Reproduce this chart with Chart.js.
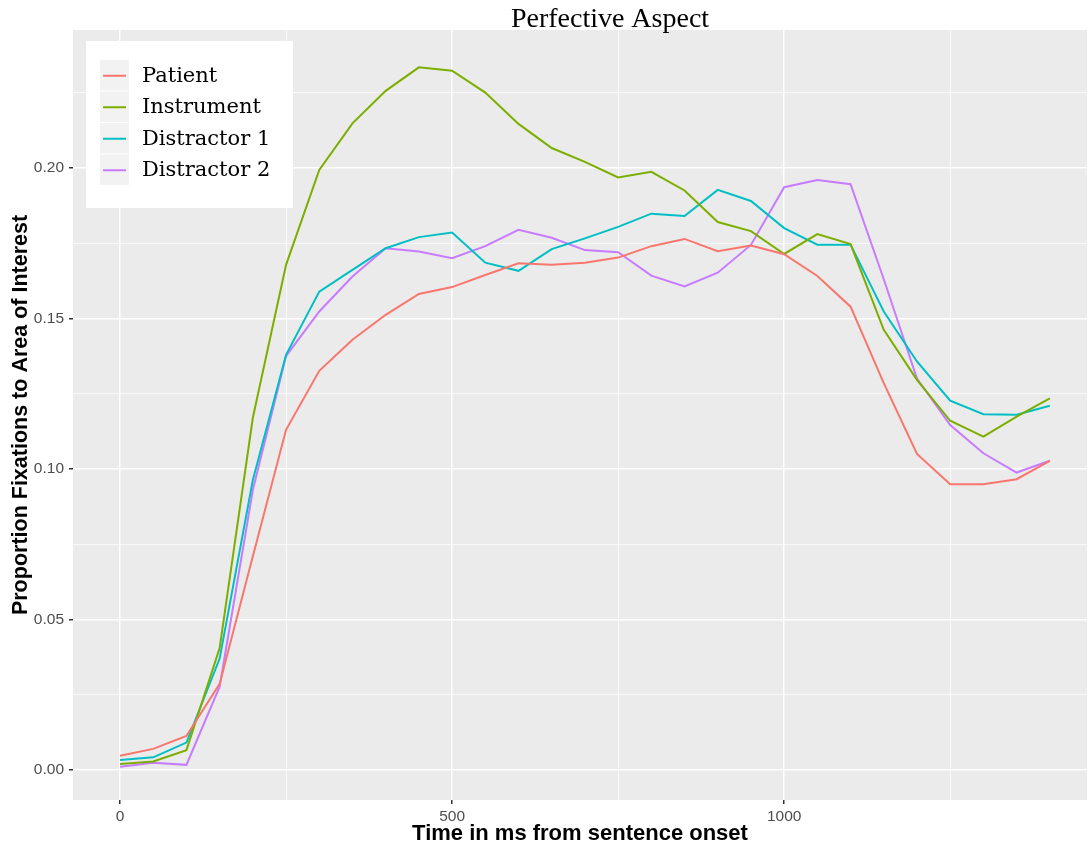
<!DOCTYPE html>
<html>
<head>
<meta charset="utf-8">
<script src="https://cdn.jsdelivr.net/npm/chart.js@4"></script>
<style>
  html, body { margin: 0; padding: 0; background: #ffffff; }
  #wrap { width: 1089px; height: 851px; }
</style>
</head>
<body>
<div id="wrap"><canvas id="c" width="1089" height="851"></canvas></div>
<script>
// ---- data ----
const timesMs = [0,50,100,150,200,250,300,350,400,450,500,550,600,650,700,750,800,850,900,950,1000,1050,1100,1150,1200,1250,1300,1350,1400];
const patient = [0.0047,0.0070,0.0113,0.0286,0.071,0.113,0.1326,0.1429,0.1512,0.1581,0.1604,0.1644,0.1683,0.1678,0.1685,0.1702,0.1740,0.1764,0.1723,0.1742,0.1713,0.1641,0.1539,0.1285,0.105,0.0949,0.0949,0.0966,0.1027];
const instrument = [0.0020,0.0028,0.0066,0.0405,0.117,0.1678,0.1993,0.2148,0.2256,0.2334,0.2323,0.2250,0.2146,0.2066,0.2020,0.1968,0.1987,0.1925,0.1820,0.1790,0.1714,0.1780,0.1747,0.1462,0.1296,0.1160,0.1107,0.1174,0.1234];
const distractor1 = [0.0033,0.0042,0.0091,0.0370,0.0963,0.1379,0.1589,0.1661,0.1733,0.1770,0.1785,0.1685,0.1658,0.1730,0.1766,0.1804,0.1848,0.1840,0.1927,0.1890,0.1800,0.1745,0.1745,0.1523,0.1357,0.1227,0.1182,0.1180,0.1210];
const distractor2 = [0.0011,0.0024,0.0017,0.0277,0.0930,0.1375,0.1523,0.1639,0.1733,0.1722,0.1700,0.1740,0.1794,0.1768,0.1727,0.1720,0.1642,0.1606,0.1652,0.1744,0.1936,0.1960,0.1946,0.1630,0.1300,0.1146,0.1052,0.0988,0.1027];
const seriesNames = ['Patient','Instrument','Distractor 1','Distractor 2'];
const seriesColors = ['#F8766D','#7CAE00','#00BFC4','#C77CFF'];
const xTickValues = [0,250,500,750,1000,1250];
const yTickValues = [0,0.025,0.05,0.075,0.10,0.125,0.15,0.175,0.20,0.225];
const chartTitle = 'Perfective Aspect';
const xTitle = 'Time in ms from sentence onset';
const yTitle = 'Proportion Fixations to Area of Interest';

const allSeries = [patient, instrument, distractor1, distractor2];
const datasets = allSeries.map((vals, i) => ({
  label: seriesNames[i],
  data: vals.map((v, j) => ({x: timesMs[j], y: v})),
  borderColor: seriesColors[i],
  backgroundColor: seriesColors[i],
  borderWidth: 2,
  pointRadius: 0,
  tension: 0,
  fill: false
}));

const isMajorX = v => Math.round(v) % 500 === 0;
const isMajorY = v => Math.round(v * 1000) % 50 === 0;

const panelBg = {
  id: 'panelBg',
  beforeDraw(chart) {
    const {ctx, chartArea: a} = chart;
    ctx.save();
    ctx.fillStyle = '#EBEBEB';
    ctx.fillRect(a.left, a.top, a.right - a.left, a.bottom - a.top);
    ctx.restore();
  }
};

const topTitle = {
  id: 'topTitle',
  afterDraw(chart) {
    const {ctx, chartArea: a} = chart;
    ctx.save();
    ctx.fillStyle = '#000000';
    ctx.font = '28px "Liberation Serif", serif';
    ctx.textAlign = 'center';
    ctx.textBaseline = 'alphabetic';
    ctx.fillText(chartTitle, a.left + 537, a.top - 3);
    ctx.restore();
  }
};

const insideLegend = {
  id: 'insideLegend',
  afterDatasetsDraw(chart) {
    const {ctx, chartArea: a} = chart;
    const bx = a.left + 13, by = a.top + 11, bw = 207, bh = 167;
    ctx.save();
    ctx.fillStyle = '#FFFFFF';
    ctx.fillRect(bx, by, bw, bh);
    const rowH = 31.5, keyX = bx + 14, keyY = by + 19, keyW = 29;
    chart.data.datasets.forEach((ds, i) => {
      const y0 = keyY + i * rowH;
      ctx.fillStyle = '#F2F2F2';
      ctx.fillRect(keyX, y0, keyW, rowH - 1);
      ctx.strokeStyle = ds.borderColor;
      ctx.lineWidth = 2;
      ctx.beginPath();
      ctx.moveTo(keyX + 3, y0 + rowH / 2);
      ctx.lineTo(keyX + keyW - 3, y0 + rowH / 2);
      ctx.stroke();
      ctx.fillStyle = '#000000';
      ctx.font = '21px "DejaVu Serif", serif';
      ctx.textBaseline = 'middle';
      ctx.textAlign = 'left';
      ctx.fillText(ds.label, bx + 56, y0 + rowH / 2 + 0.5);
    });
    ctx.restore();
  }
};

new Chart(document.getElementById('c'), {
  type: 'line',
  data: { datasets },
  options: {
    responsive: false,
    animation: false,
    layout: { padding: { left: 0, right: 2, top: 30, bottom: 0 } },
    plugins: {
      legend: { display: false },
      tooltip: { enabled: false },
      title: { display: false }
    },
    scales: {
      x: {
        type: 'linear',
        min: -70.8,
        max: 1456,
        afterBuildTicks: s => { s.ticks = xTickValues.map(v => ({value: v})); },
        afterFit: s => { s.height = 51; },
        border: { display: false },
        grid: {
          color: '#FFFFFF',
          lineWidth: c => isMajorX(c.tick.value) ? 1.5 : 0.7,
          tickColor: c => isMajorX(c.tick.value) ? '#333333' : 'rgba(0,0,0,0)',
          tickLength: 4,
          drawTicks: true
        },
        ticks: {
          color: '#4D4D4D',
          font: { family: '"Liberation Sans", Arial, sans-serif', size: 15.5 },
          padding: 3,
          maxRotation: 0,
          autoSkip: false,
          callback: v => isMajorX(v) ? String(v) : ''
        },
        title: {
          display: true,
          text: xTitle,
          color: '#000000',
          font: { family: '"Liberation Sans", Arial, sans-serif', size: 22, weight: 'bold' },
          padding: { top: 0, bottom: 4 }
        }
      },
      y: {
        type: 'linear',
        min: -0.00997,
        max: 0.2458,
        afterBuildTicks: s => { s.ticks = yTickValues.map(v => ({value: v})); },
        afterFit: s => { s.width = 73; },
        border: { display: false },
        grid: {
          color: '#FFFFFF',
          lineWidth: c => isMajorY(c.tick.value) ? 1.5 : 0.7,
          tickColor: c => isMajorY(c.tick.value) ? '#333333' : 'rgba(0,0,0,0)',
          tickLength: 4,
          drawTicks: true
        },
        ticks: {
          color: '#4D4D4D',
          font: { family: '"Liberation Sans", Arial, sans-serif', size: 15.5 },
          padding: 5,
          autoSkip: false,
          callback: v => isMajorY(v) ? v.toFixed(2) : ''
        },
        title: {
          display: true,
          text: yTitle,
          color: '#000000',
          font: { family: '"Liberation Sans", Arial, sans-serif', size: 21.5, weight: 'bold' },
          padding: { top: 8, bottom: 0 }
        }
      }
    }
  },
  plugins: [panelBg, insideLegend, topTitle]
});
</script>
</body>
</html>
